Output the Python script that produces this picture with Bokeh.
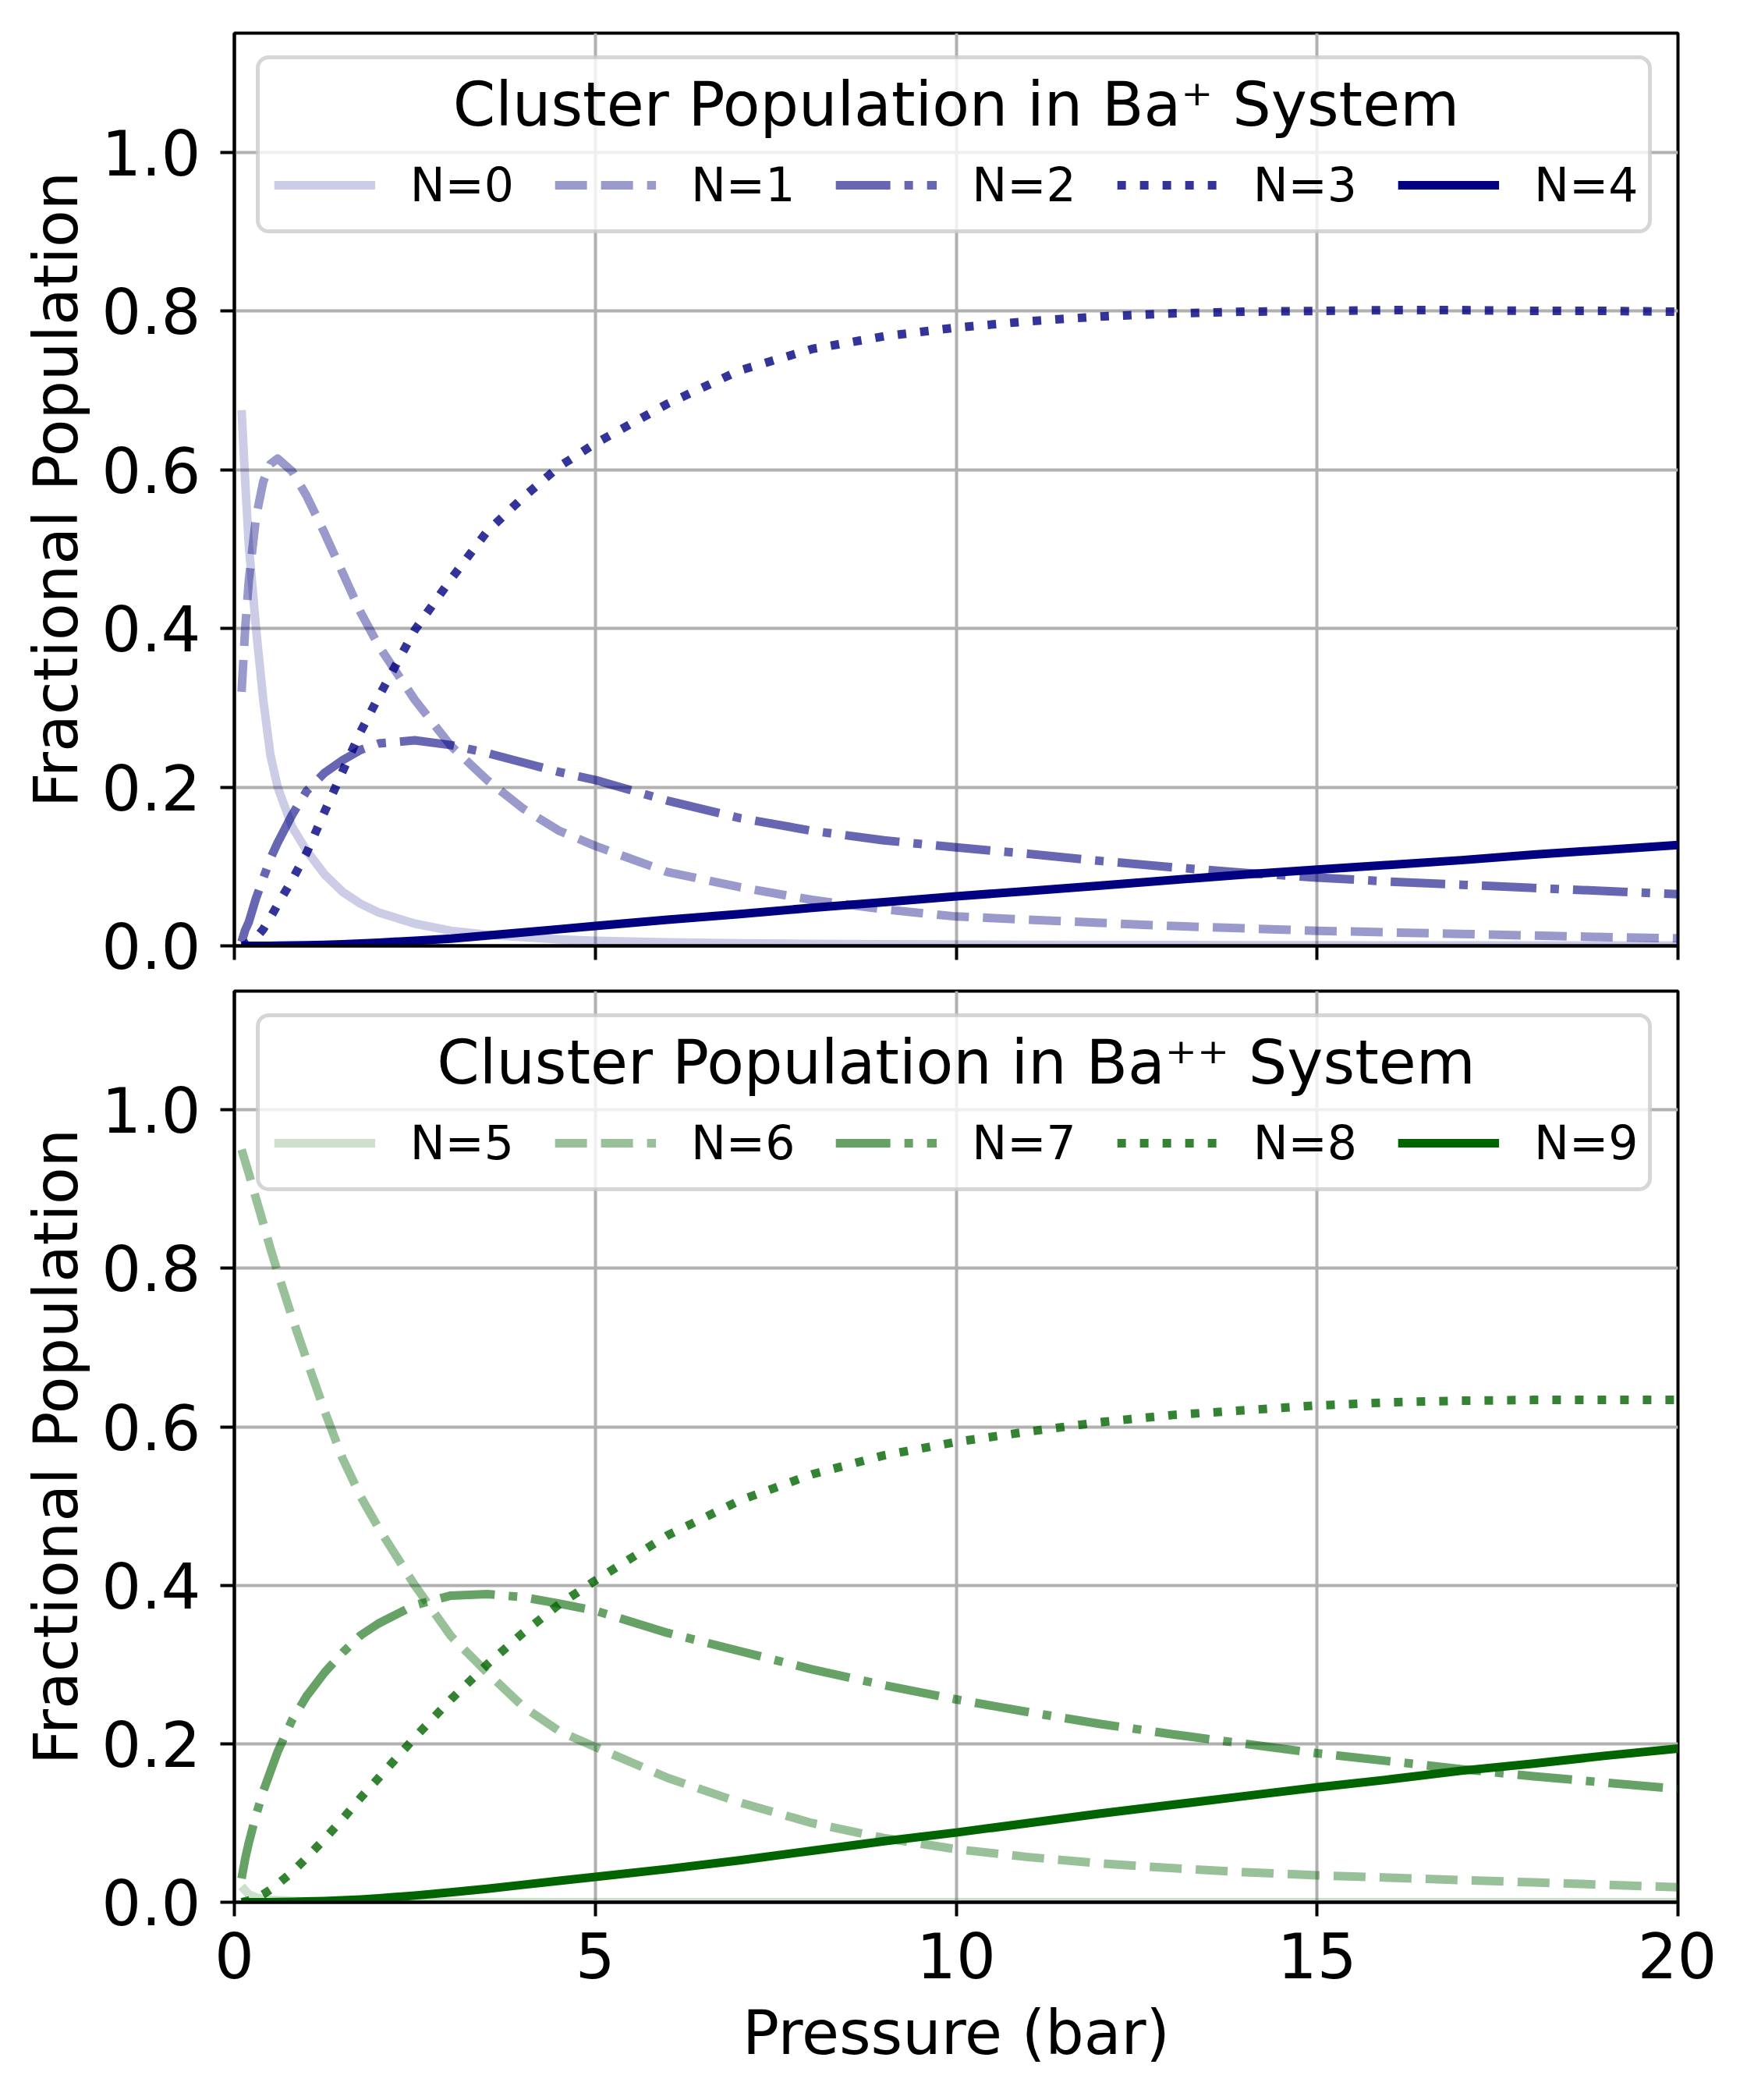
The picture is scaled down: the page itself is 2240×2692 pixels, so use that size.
from bokeh.plotting import figure
from bokeh.layouts import column
from bokeh.models import Range1d, FixedTicker, PrintfTickFormatter, Label, BoxAnnotation
from bokeh.embed import file_html
from bokeh.resources import INLINE

# ---------------- data ----------------
pressure = [0.1, 0.15, 0.2, 0.3, 0.4, 0.5, 0.6, 0.8,
            1.0, 1.25, 1.5, 1.75, 2.0,
            2.5, 3.0, 3.5, 4.0, 4.5,
            5, 6, 7, 8, 9, 10, 11, 12, 13, 14, 15, 16, 17, 18, 19, 20]

# Ba+ system
n0 = [0.675, 0.585, 0.505, 0.40, 0.31, 0.24, 0.20, 0.15,
      0.12, 0.09, 0.068, 0.053, 0.042,
      0.028, 0.019, 0.014, 0.011, 0.008,
      0.0065, 0.0045, 0.0033, 0.0025, 0.002, 0.0016, 0.0013, 0.0011, 0.0009,
      0.0008, 0.0007, 0.0006, 0.0005, 0.0005, 0.0004, 0.0004]
n1 = [0.32, 0.40, 0.46, 0.54, 0.585, 0.607, 0.614, 0.598,
      0.567, 0.52, 0.47, 0.42, 0.378,
      0.31, 0.252, 0.209, 0.173, 0.145,
      0.126, 0.093, 0.074, 0.058, 0.046, 0.037, 0.033, 0.029, 0.025,
      0.022, 0.019, 0.017, 0.015, 0.013, 0.011, 0.0095]
n2 = [0.005, 0.02, 0.03, 0.06, 0.085, 0.11, 0.13, 0.165,
      0.195, 0.218, 0.234, 0.247, 0.255,
      0.259, 0.253, 0.243, 0.231, 0.219,
      0.209, 0.183, 0.161, 0.145, 0.133, 0.124, 0.116, 0.107, 0.099,
      0.092, 0.086, 0.081, 0.077, 0.073, 0.069, 0.065]
n3 = [0.0, 0.001, 0.004, 0.01, 0.021, 0.036, 0.052, 0.083,
      0.117, 0.169, 0.22, 0.27, 0.314,
      0.398, 0.462, 0.522, 0.565, 0.604,
      0.633, 0.683, 0.725, 0.752, 0.768, 0.779, 0.787, 0.793, 0.797,
      0.799, 0.80, 0.801, 0.801, 0.80, 0.80, 0.799]
n4 = [0.0, 0.0, 0.0, 0.0, 0.0, 0.0001, 0.0002, 0.0004,
      0.0007, 0.0012, 0.002, 0.003, 0.004,
      0.0065, 0.009, 0.013, 0.017, 0.021,
      0.025, 0.033, 0.040, 0.048, 0.055, 0.0625, 0.069, 0.076, 0.083,
      0.090, 0.096, 0.102, 0.108, 0.115, 0.121, 0.127]

# Ba++ system
n5 = [0.02, 0.015, 0.01, 0.006, 0.004, 0.003, 0.0025, 0.0018,
      0.0013, 0.001, 0.0008, 0.0006, 0.0005,
      0.0004, 0.0003, 0.0002, 0.0002, 0.0001,
      0.0001, 0.0001, 0.0001, 0.0001, 0.0001, 0.0001, 0.0001, 0.0001, 0.0001,
      0.0001, 0.0001, 0.0001, 0.0001, 0.0001, 0.0001, 0.0001]
n6 = [0.95, 0.935, 0.92, 0.888, 0.857, 0.825, 0.795, 0.738,
      0.685, 0.62, 0.56, 0.512, 0.472,
      0.40, 0.336, 0.29, 0.247, 0.216,
      0.196, 0.157, 0.126, 0.100, 0.081, 0.067, 0.057, 0.049, 0.043,
      0.038, 0.034, 0.031, 0.028, 0.025, 0.022, 0.019]
n7 = [0.03, 0.055, 0.075, 0.11, 0.14, 0.165, 0.19, 0.23,
      0.26, 0.29, 0.315, 0.337, 0.352,
      0.375, 0.387, 0.389, 0.385, 0.377,
      0.368, 0.340, 0.317, 0.294, 0.274, 0.256, 0.240, 0.225, 0.212,
      0.200, 0.188, 0.178, 0.168, 0.159, 0.151, 0.143]
n8 = [0.0, 0.001, 0.002, 0.005, 0.01, 0.016, 0.023, 0.038,
      0.056, 0.08, 0.105, 0.132, 0.157,
      0.208, 0.256, 0.30, 0.34, 0.376,
      0.406, 0.463, 0.507, 0.540, 0.564, 0.581, 0.594, 0.606, 0.615,
      0.621, 0.627, 0.631, 0.633, 0.634, 0.634, 0.634]
n9 = [0.0, 0.0, 0.0, 0.0, 0.0, 0.0, 0.0002, 0.0005,
      0.001, 0.0015, 0.0025, 0.0035, 0.005,
      0.0085, 0.0125, 0.017, 0.022, 0.027,
      0.032, 0.042, 0.053, 0.065, 0.077, 0.088, 0.100, 0.112, 0.123,
      0.134, 0.145, 0.155, 0.166, 0.175, 0.185, 0.194]

top_series = [("N=0", n0), ("N=1", n1), ("N=2", n2), ("N=3", n3), ("N=4", n4)]
bottom_series = [("N=5", n5), ("N=6", n6), ("N=7", n7), ("N=8", n8), ("N=9", n9)]
alphas = [0.2, 0.4, 0.6, 0.8, 1.0]
dashes = ["solid", "41 18", "70 18 11 18", "11 18", "solid"]

x_ticks = [0, 5, 10, 15, 20]
y_ticks = [0.0, 0.2, 0.4, 0.6, 0.8, 1.0]

top_title = "Cluster Population in Ba\u207a System"
bottom_title = "Cluster Population in Ba\u207a\u207a System"

FONT = "DejaVu Sans"
X_MIN, X_MAX = 0, 20
Y_MAX = 1.15
FRAME_W = 1851
x_range = Range1d(X_MIN, X_MAX)


def make_fig(frame_h, top_border, bottom_border, show_xlabels):
    p = figure(frame_width=FRAME_W, frame_height=frame_h,
               x_range=x_range, y_range=Range1d(0, Y_MAX),
               min_border_left=300, min_border_right=50,
               min_border_top=top_border, min_border_bottom=bottom_border,
               output_backend="svg", toolbar_location=None,
               background_fill_color="white", border_fill_color="white")
    p.outline_line_color = "black"
    p.outline_line_width = 4
    p.outline_line_alpha = 1.0
    for ax in (p.xaxis[0], p.yaxis[0]):
        ax.axis_line_width = 4
        ax.major_tick_line_width = 4
        ax.major_tick_out = 18
        ax.major_tick_in = 0
        ax.minor_tick_line_color = None
        ax.major_label_text_font = FONT
        ax.major_label_text_font_size = "80px"
        ax.major_label_text_color = "black"
        ax.axis_label_text_font = FONT
        ax.axis_label_text_font_size = "78px"
        ax.axis_label_text_font_style = "normal"
        ax.axis_label_text_color = "black"
    p.xaxis.ticker = FixedTicker(ticks=x_ticks)
    p.yaxis.ticker = FixedTicker(ticks=y_ticks)
    p.yaxis.formatter = PrintfTickFormatter(format="%.1f")
    p.yaxis.major_label_standoff = 25
    p.yaxis.axis_label = "Fractional Population"
    p.yaxis.axis_label_standoff = 10
    if show_xlabels:
        p.xaxis.major_label_standoff = 20
        p.xaxis.axis_label = "Pressure (bar)"
        p.xaxis.axis_label_standoff = 22
    else:
        p.xaxis.major_label_overrides = {t: "" for t in x_ticks}
        p.xaxis.major_label_text_font_size = "1px"
        p.xaxis.major_label_standoff = 0
    p.grid.grid_line_color = "#b0b0b0"
    p.grid.grid_line_width = 4
    return p


def add_lines(p, series, color):
    for (label, ys), a, d in zip(series, alphas, dashes):
        p.line(pressure, ys, line_color=color, line_alpha=a, line_width=11,
               line_dash=d, line_join="round", legend_label=label)


def style_legend(p, title, frame_h):
    px_x = (X_MAX - X_MIN) / FRAME_W      # data units per screen pixel
    px_y = Y_MAX / frame_h
    lg = p.legend[0]
    # legend keeps glyphs + labels; its (invisible) title reserves the room
    lg.title = title
    lg.title_text_alpha = 0.0
    lg.orientation = "horizontal"
    lg.location = "top_center"
    lg.margin = 31
    lg.padding = 20
    lg.spacing = 52
    lg.glyph_width = 130
    lg.glyph_height = 60
    lg.label_standoff = 45
    lg.label_height = 60
    lg.label_text_font = FONT
    lg.label_text_font_size = "60px"
    lg.label_text_color = "black"
    lg.title_text_font = FONT
    lg.title_text_font_size = "78px"
    lg.title_text_font_style = "normal"
    lg.title_standoff = 39
    lg.border_line_color = None
    lg.background_fill_alpha = 0.0
    # the legend frame: translucent white, light grey rounded border
    p.add_layout(BoxAnnotation(left=X_MIN + 30 * px_x, right=X_MAX - 36 * px_x,
                               top=Y_MAX - 31 * px_y, bottom=Y_MAX - 254 * px_y,
                               fill_color="white", fill_alpha=0.8,
                               line_color="#cccccc", line_alpha=0.8,
                               line_width=5, border_radius=14,
                               level="annotation"))
    # centred legend title; baseline ~121 px below the frame top
    p.add_layout(Label(x=(X_MIN + X_MAX) / 2, y=Y_MAX - 91.0 * px_y,
                       text=title, text_align="center",
                       text_baseline="alphabetic", text_font=FONT,
                       text_font_size="78px", text_color="black",
                       level="overlay"))


p1 = make_fig(1170, 42, 40, False)
add_lines(p1, top_series, "navy")
style_legend(p1, top_title, 1170)

p2 = make_fig(1168, 18, 150, True)
add_lines(p2, bottom_series, "darkgreen")
style_legend(p2, bottom_title, 1168)

layout = column(p1, p2, spacing=0)
open("out.html", "w").write(file_html(layout, INLINE))
